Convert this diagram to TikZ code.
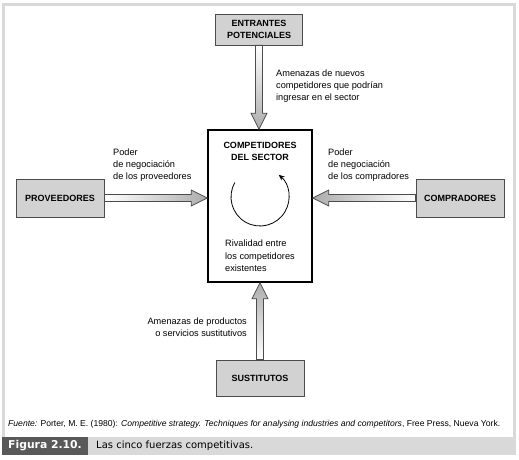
\documentclass[tikz,border=0pt]{standalone}
\usepackage{fontspec}
\setmainfont{Liberation Sans}
\newfontfamily\capfont{DejaVu Sans}
\usetikzlibrary{calc,arrows.meta}
\colorlet{marco}{gray!30}
\colorlet{borde}{black!70}
\tikzset{
  caja/.style={
      draw=borde,
      fill=gray!35,
      line width=.8pt,
      inner sep=0pt,
      align=center,
      minimum width=88pt,
      minimum height=38pt,
      font=\bfseries\fontsize{9}{11.5}\selectfont
  },
  sector/.style={
      draw,
      line width=1.6pt,
      minimum width=104pt,
      minimum height=152pt
  },
  texto/.style={
      inner sep=0pt,
      align=left,
      font=\fontsize{9.2}{12.3}\selectfont
  },
  fuerza/.style={
      draw=borde,
      line width=.8pt,
      line join=miter
  }
}
\newcommand{\fuerza}[4]{%
  \coordinate (#1-c) at ($(#3)!16pt!(#2)$);
  \path[fuerza,#4] ($(#2)!3.5pt!90:(#3)$) -- ($(#1-c)!3.5pt!-90:(#2)$)
    -- ($(#1-c)!8pt!-90:(#2)$) -- (#3) -- ($(#1-c)!8pt!90:(#2)$)
    -- ($(#1-c)!3.5pt!90:(#2)$) -- ($(#2)!3.5pt!-90:(#3)$) -- cycle;
}
\begin{document}
\begin{tikzpicture}[x=1pt,y=1pt]
	\useasboundingbox (0,0) rectangle (519,460);
	\fill[white] (0,0) rectangle (519,460);
	\draw[marco, line width=3pt] (3.5,23) -- (3.5,455.5) -- (514.5,455.5) -- (514.5,23);
	\fill[marco] (2,5) rectangle (516,23);
	\fill[black!65] (2,5) rectangle (88,23);

	\node[sector] (comp) at (260,254) {};
	\node[caja, minimum width=87pt, minimum height=31pt] (entr) at (259,430.5) {ENTRANTES\\POTENCIALES};
	\node[caja] (prov) at (60,262) {PROVEEDORES};
	\node[caja] (compr) at (460,262) {COMPRADORES};
	\node[caja, minimum height=36pt] (sust) at (260,82) {SUSTITUTOS};

	\fuerza{f1}{entr.south}{entr.south |- comp.north}{top color=white, bottom color=gray!65}
	\fuerza{f2}{prov.east}{prov.east -| comp.west}{left color=white, right color=gray!65}
	\fuerza{f3}{compr.west}{compr.west -| comp.east}{left color=gray!65, right color=white}
	\fuerza{f4}{sust.north}{sust.north |- comp.south}{top color=gray!65, bottom color=white}

	\node[font=\bfseries\fontsize{9}{12}\selectfont, align=center] (titulo) at (260,309) {COMPETIDORES\\DEL SECTOR};
	\coordinate (giro) at (260,263);
	\draw[line width=.8pt, -{Stealth[length=6pt,width=5pt]}] (giro) ++(150:29) arc[start angle=150, end angle=410, radius=29];
	\node[texto, anchor=west] (rival) at (225,204) {Rivalidad entre\\los competidores\\existentes};

	\node[texto, anchor=west] (tentr) at (276,374) {Amenazas de nuevos\\competidores que podrían\\ingresar en el sector};
	\node[texto, anchor=west] (tprov) at (113,295) {Poder\\de negociación\\de los proveedores};
	\node[texto, anchor=west] (tcompr) at (328,295) {Poder\\de negociación\\de los compradores};
	\node[texto, anchor=east, align=right] (tsust) at (247,133) {Amenazas de productos\\o servicios sustitutivos};

	\node[inner sep=0pt, anchor=west, font=\fontsize{8.6}{10}\selectfont] (fuente) at (8,36)
		{\textit{Fuente:} Porter, M. E. (1980): \textit{Competitive strategy. Techniques for analysing industries and competitors}, Free Press, Nueva York.};
	\node[text=white, font=\capfont\bfseries\fontsize{10.8}{12}\selectfont] (fig) at (45,14) {Figura 2.10.};
	\node[inner sep=0pt, anchor=west, font=\capfont\fontsize{10}{12}\selectfont] (leyenda) at (96,14) {Las cinco fuerzas competitivas.};
\end{tikzpicture}
\end{document}
